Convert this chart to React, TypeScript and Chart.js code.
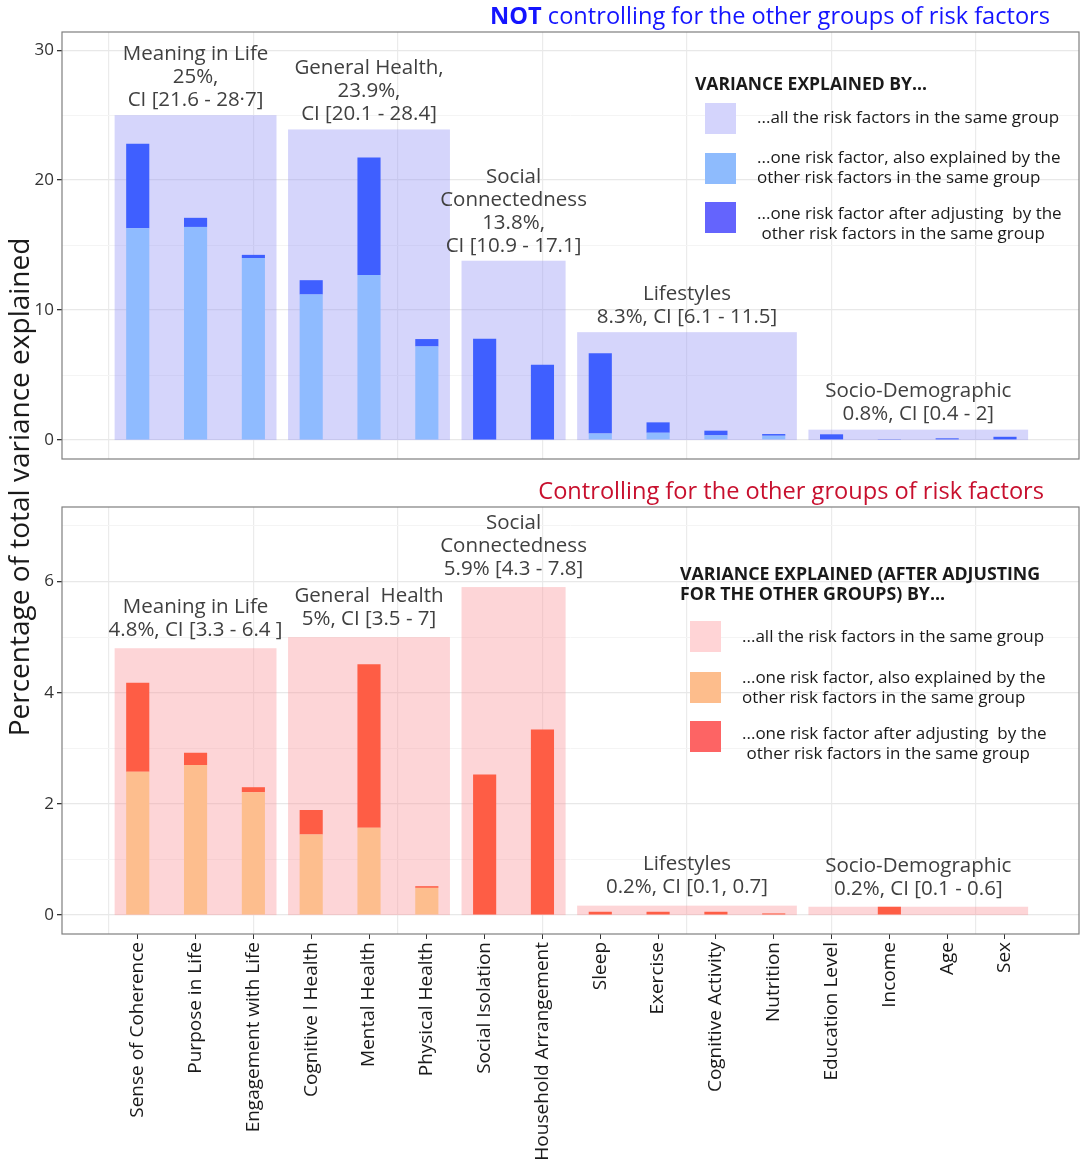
import React, { useEffect, useRef } from 'react';
import { Chart, registerables } from 'chart.js';
Chart.register(...registerables);

const FONT = "'Open Sans', 'DejaVu Sans', sans-serif";

const categories = [
  'Sense of Coherence', 'Purpose in Life', 'Engagement with Life', 'Cognitive l Health',
  'Mental Health', 'Physical Health', 'Social Isolation', 'Household Arrangement',
  'Sleep', 'Exercise', 'Cognitive Activity', 'Nutrition',
  'Education Level', 'Income', 'Age', 'Sex',
];

// groups: index of first and last category of each group
const groupFirst = [0, 3, 6, 8, 12];
const groupLast = [2, 5, 7, 11, 15];

// Top panel: NOT controlling for other groups
const topGroupTotals = [25, 23.9, 13.8, 8.3, 0.8];
const topGroupLabels = [
  ['Meaning in Life', '25%,', 'CI [21.6 - 28·7]'],
  ['General Health,', '23.9%,', 'CI [20.1 - 28.4]'],
  ['Social', 'Connectedness', '13.8%,', 'CI [10.9 - 17.1]'],
  ['Lifestyles', '8.3%, CI [6.1 - 11.5]'],
  ['Socio-Demographic', '0.8%, CI [0.4 - 2]'],
];
const topShared = [16.3, 16.4, 14.0, 11.2, 12.7, 7.2, 0, 0, 0.5, 0.56, 0.36, 0.33, 0, 0, 0, 0];
const topUnique = [6.5, 0.7, 0.25, 1.1, 9.05, 0.57, 7.8, 5.8, 6.17, 0.8, 0.36, 0.13, 0.44, 0.03, 0.13, 0.25];

// Bottom panel: controlling for other groups
const botGroupTotals = [4.8, 5.0, 5.9, 0.17, 0.15];
const botGroupLabels = [
  ['Meaning in Life', '4.8%, CI [3.3 - 6.4 ]'],
  ['General  Health', '5%, CI [3.5 - 7]'],
  ['Social', 'Connectedness', '5.9% [4.3 - 7.8]'],
  ['Lifestyles', '0.2%, CI [0.1, 0.7]'],
  ['Socio-Demographic', '0.2%, CI [0.1 - 0.6]'],
];
const botShared = [2.58, 2.7, 2.21, 1.45, 1.57, 0.49, 0, 0, 0, 0, 0, 0, 0, 0, 0, 0];
const botUnique = [1.6, 0.22, 0.09, 0.44, 2.94, 0.03, 2.53, 3.34, 0.06, 0.06, 0.06, 0.03, 0, 0.15, 0, 0];

// axis ticks
const topYTicks = [0, 5, 10, 15, 20, 25, 30];
const botYTicks = [0, 1, 2, 3, 4, 5, 6, 7];
const xGridBreaks = [-0.5, 2, 4.5, 7, 9.5, 12, 14.5];

const X_MIN = -1.31;
const X_MAX = 16.28;

function groupPlugin(totals: number[], labels: string[][], fill: string, gap: number) {
  return {
    id: 'groups',
    beforeDatasetsDraw(chart: any) {
      const { ctx } = chart;
      const x = chart.scales.x;
      const y = chart.scales.y;
      ctx.save();
      groupFirst.forEach((f, i) => {
        const l = groupLast[i];
        const x0 = x.getPixelForValue(f - 0.4);
        const x1 = x.getPixelForValue(l + 0.4);
        const yt = y.getPixelForValue(totals[i]);
        const y0 = y.getPixelForValue(0);
        ctx.fillStyle = fill;
        ctx.fillRect(x0, yt, x1 - x0, y0 - yt);
        ctx.fillStyle = '#404040';
        ctx.font = `20.5px ${FONT}`;
        ctx.textAlign = 'center';
        ctx.textBaseline = 'middle';
        const lines = labels[i];
        const n = lines.length;
        lines.forEach((t, k) => {
          ctx.fillText(t, (x0 + x1) / 2, yt - gap - (n - 1 - k) * 23);
        });
      });
      ctx.restore();
    },
    afterDraw(chart: any) {
      const { ctx, chartArea } = chart;
      ctx.save();
      ctx.strokeStyle = '#7f7f7f';
      ctx.lineWidth = 1.2;
      ctx.strokeRect(chartArea.left, chartArea.top, chartArea.right - chartArea.left, chartArea.bottom - chartArea.top);
      ctx.restore();
    },
  };
}

function makeConfig(opts: {
  shared: number[]; unique: number[]; totals: number[]; labels: string[][];
  yMin: number; yMax: number; yTicks: number[]; major: number;
  lightColor: string; darkColor: string; boxFill: string; padTop: number; showLabels: boolean; bottomH: number; gap: number;
}) {
  const scales: any = {
    x: {
      type: 'linear', min: X_MIN, max: X_MAX, stacked: true, offset: false,
      ticks: { display: false },
      grid: { color: '#ebebeb', lineWidth: 1.2, drawTicks: false, offset: false },
      border: { display: false },
      afterBuildTicks: (axis: any) => { axis.ticks = xGridBreaks.map((v) => ({ value: v })); },
      afterFit: (s: any) => { s.height = opts.showLabels ? 0 : opts.bottomH; },
    },
    y: {
      type: 'linear', min: opts.yMin, max: opts.yMax, stacked: true,
      afterBuildTicks: (axis: any) => { axis.ticks = opts.yTicks.map((v) => ({ value: v })); },
      afterFit: (s: any) => { s.width = 62; },
      ticks: {
        color: '#333333', font: { size: 17, family: FONT }, padding: 3,
        callback: (v: any) => (Math.abs(v % opts.major) < 1e-9 ? String(v) : ''),
      },
      grid: {
        color: (c: any) => (c.tick && Math.abs(c.tick.value % opts.major) < 1e-9 ? '#e8e8e8' : '#f4f4f4'),
        lineWidth: (c: any) => (c.tick && Math.abs(c.tick.value % opts.major) < 1e-9 ? 1.3 : 1),
        tickColor: (c: any) => (c.tick && Math.abs(c.tick.value % opts.major) < 1e-9 ? '#333333' : 'rgba(0,0,0,0)'),
        tickLength: 5,
      },
      border: { display: false },
    },
  };
  if (opts.showLabels) {
    scales.xl = {
      type: 'linear', position: 'bottom', min: X_MIN, max: X_MAX, offset: false,
      afterBuildTicks: (axis: any) => { axis.ticks = categories.map((_, i) => ({ value: i })); },
      afterFit: (s: any) => { s.height = opts.bottomH; },
      ticks: {
        autoSkip: false, maxRotation: 90, minRotation: 90, padding: 3,
        color: '#1a1a1a', font: { size: 19, family: FONT },
        callback: (v: any) => categories[Math.round(v)] ?? '',
      },
      grid: { drawOnChartArea: false, color: 'rgba(0,0,0,0)', tickColor: '#333333', tickLength: 5, offset: false },
      border: { display: false },
    };
  }
  return {
    type: 'bar' as const,
    data: {
      datasets: [
        {
          label: 'shared',
          data: opts.shared.map((v, i) => ({ x: i, y: v })),
          backgroundColor: opts.lightColor,
          categoryPercentage: 1, barPercentage: 0.4,
        },
        {
          label: 'unique',
          data: opts.unique.map((v, i) => ({ x: i, y: v })),
          backgroundColor: opts.darkColor,
          categoryPercentage: 1, barPercentage: 0.4,
        },
      ],
    },
    options: {
      responsive: false,
      animation: false as const,
      layout: { padding: { top: opts.padTop, right: 5, left: 0, bottom: 0 } },
      plugins: { legend: { display: false }, tooltip: { enabled: false } },
      scales,
    },
    plugins: [groupPlugin(opts.totals, opts.labels, opts.boxFill, opts.gap)],
  };
}

function ChartCanvas({ config, width, height, top }: { config: any; width: number; height: number; top: number }) {
  const ref = useRef<HTMLCanvasElement>(null);
  useEffect(() => {
    if (!ref.current) return;
    const chart = new Chart(ref.current, config);
    return () => chart.destroy();
  }, []);
  return (
    <canvas ref={ref} width={width} height={height}
      style={{ position: 'absolute', left: 0, top, width, height }} />
  );
}

const legendText: React.CSSProperties = { position: 'absolute', fontSize: 17, lineHeight: '20px', color: '#1a1a1a', whiteSpace: 'nowrap' };

function LegendSquare({ left, top, color }: { left: number; top: number; color: string }) {
  return <div style={{ position: 'absolute', left, top, width: 31, height: 31, background: color }} />;
}

export default function App() {
  Chart.defaults.font.family = FONT;
  const topConfig = makeConfig({
    shared: topShared, unique: topUnique, totals: topGroupTotals, labels: topGroupLabels,
    yMin: -1.46, yMax: 31.4, yTicks: topYTicks, major: 10,
    lightColor: '#8fbbff', darkColor: '#3f5fff', boxFill: 'rgba(150,150,245,0.4)',
    padTop: 32, showLabels: false, bottomH: 17, gap: 15,
  });
  const botConfig = makeConfig({
    shared: botShared, unique: botUnique, totals: botGroupTotals, labels: botGroupLabels,
    yMin: -0.34, yMax: 7.34, yTicks: botYTicks, major: 2,
    lightColor: '#fdbe8e', darkColor: '#fe5d45', boxFill: 'rgba(250,150,155,0.4)',
    padTop: 37, showLabels: true, bottomH: 231, gap: 18,
  });
  return (
    <div style={{ position: 'absolute', left: 0, top: 0, width: 1084, height: 1165, background: '#fff', fontFamily: FONT, overflow: 'hidden' }}>
      <ChartCanvas config={topConfig} width={1084} height={476} top={0} />
      <ChartCanvas config={botConfig} width={1084} height={695} top={470} />

      <div style={{ position: 'absolute', right: 34, top: 0, lineHeight: '30px', fontSize: 23.6, color: '#1414ff', whiteSpace: 'nowrap' }}>
        <b>NOT</b> controlling for the other groups of risk factors
      </div>
      <div style={{ position: 'absolute', right: 40, top: 475, lineHeight: '30px', fontSize: 23.6, color: '#c8102e', whiteSpace: 'nowrap' }}>
        Controlling for the other groups of risk factors
      </div>
      <div style={{ position: 'absolute', left: 18 - 300, top: 487 - 18, width: 600, height: 36, lineHeight: '36px', fontSize: 28, textAlign: 'center', transform: 'rotate(-90deg)', color: '#1a1a1a', whiteSpace: 'nowrap' }}>
        Percentage of total variance explained
      </div>

      {/* top legend */}
      <div style={{ ...legendText, left: 695, top: 73, fontWeight: 700, fontSize: 17.5 }}>VARIANCE EXPLAINED BY...</div>
      <LegendSquare left={705} top={103} color="#d4d4fc" />
      <LegendSquare left={705} top={153} color="#8ebbfd" />
      <LegendSquare left={705} top={202} color="#6464fd" />
      <div style={{ ...legendText, left: 757, top: 107 }}>...all the risk factors in the same group</div>
      <div style={{ ...legendText, left: 757, top: 147 }}>...one risk factor, also explained by the<br />other risk factors in the same group</div>
      <div style={{ ...legendText, left: 757, top: 203 }}>...one risk factor after adjusting&nbsp; by the<br />&nbsp;other risk factors in the same group</div>

      {/* bottom legend */}
      <div style={{ ...legendText, left: 680, top: 563, fontWeight: 700, fontSize: 17.8 }}>VARIANCE EXPLAINED (AFTER ADJUSTING<br />FOR THE OTHER GROUPS) BY...</div>
      <LegendSquare left={690} top={621} color="#ffd4d6" />
      <LegendSquare left={690} top={672} color="#fdbd8c" />
      <LegendSquare left={690} top={721} color="#fd6464" />
      <div style={{ ...legendText, left: 742, top: 626 }}>...all the risk factors in the same group</div>
      <div style={{ ...legendText, left: 742, top: 667 }}>...one risk factor, also explained by the<br />other risk factors in the same group</div>
      <div style={{ ...legendText, left: 742, top: 723 }}>...one risk factor after adjusting&nbsp; by the<br />&nbsp;other risk factors in the same group</div>
    </div>
  );
}
